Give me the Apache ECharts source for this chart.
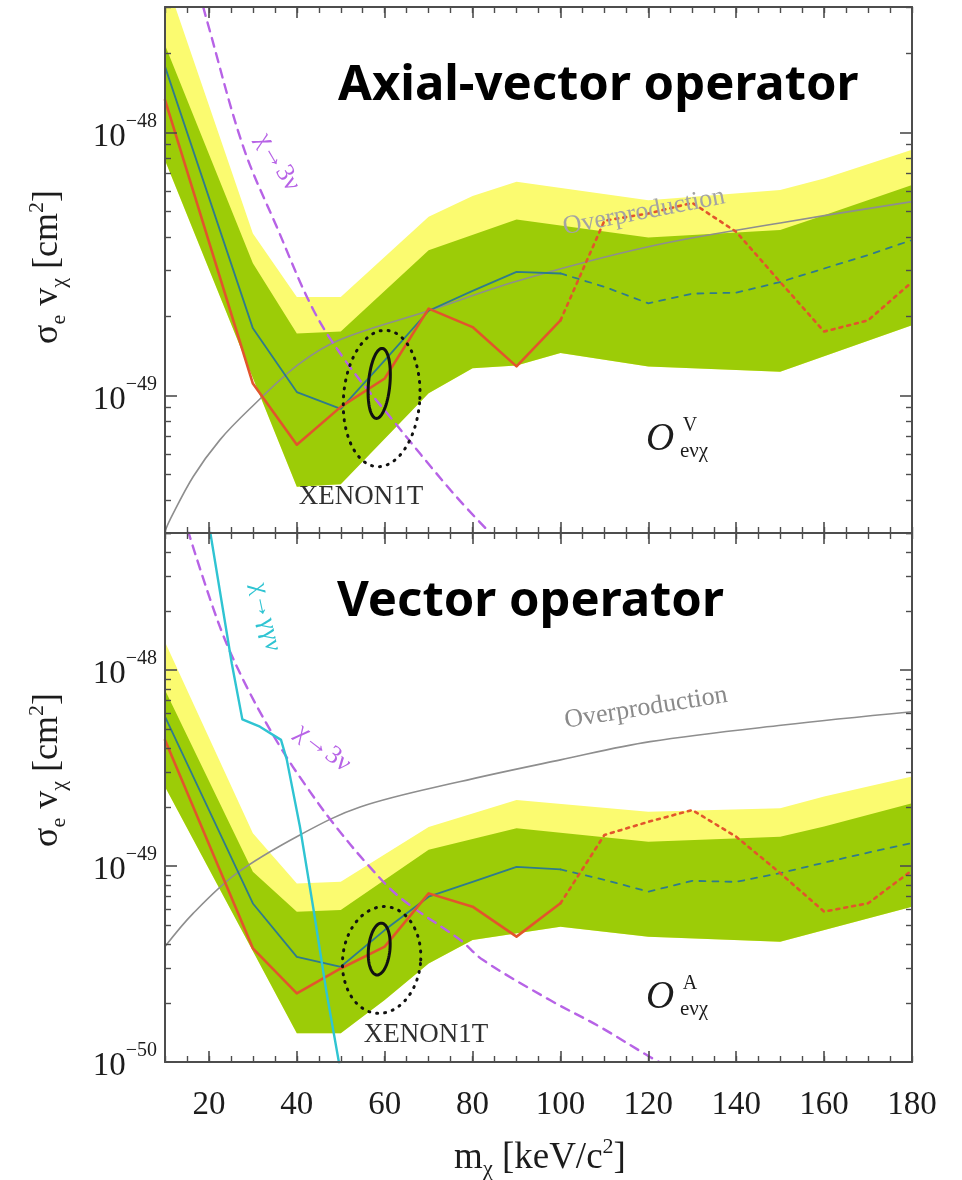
<!DOCTYPE html>
<html>
<head>
<meta charset="utf-8">
<title>Electron-scattering cross sections of fermionic absorption dark matter</title>
<script src="https://cdn.jsdelivr.net/npm/echarts@6.0.0/dist/echarts.min.js"></script>
<style>
  html, body { margin: 0; padding: 0; background: #ffffff; }
  #chart { width: 962px; height: 1180px; }
</style>
</head>
<body>
<div id="chart"></div>
<script>
// Cross sections below are in cm²; the log axes are plotted in units of 1e-49 cm².
const SIGMA_UNIT = 1e-49;

// Mass axis ticks (keV/c²)
const massMajorTicks = [20, 40, 60, 80, 100, 120, 140, 160, 180];
// Decade ticks (cm²)
const axialDecades = [1e-49, 1e-48];
const vectorDecades = [1e-50, 1e-49, 1e-48];

// ---------- Upper panel: axial-vector operator (O^V_eνχ) ----------
const axialYellowHi = [[10, 3.9e-48], [30, 4.13e-49], [40, 2.37e-49], [50, 2.37e-49], [70, 4.78e-49], [80, 5.73e-49], [90, 6.49e-49], [120, 5.53e-49], [150, 6.04e-49], [160, 6.68e-49], [180, 8.6e-49]];
const axialGreenHi = [[10, 2.15e-48], [30, 3.18e-49], [40, 1.72e-49], [50, 1.75e-49], [70, 3.57e-49], [90, 4.67e-49], [120, 3.99e-49], [150, 4.26e-49], [160, 4.85e-49], [180, 6.31e-49]];
const axialGreenLo = [[10, 7.85e-49], [40, 4.5e-50], [50, 4.6e-50], [70, 1.02e-49], [80, 1.27e-49], [90, 1.3e-49], [100, 1.45e-49], [120, 1.29e-49], [150, 1.23e-49], [180, 1.85e-49]];
const axialLimit = [[10, 1.33e-48], [30, 1.11e-49], [40, 6.5e-50], [50, 9.05e-50], [60, 1.16e-49], [70, 2.14e-49], [80, 1.82e-49], [90, 1.29e-49], [100, 1.93e-49]];
const axialLimitExtrap = [[100, 1.93e-49], [110, 4.62e-49], [120, 4.92e-49], [130, 5.4e-49], [140, 4.19e-49], [150, 2.7e-49], [160, 1.75e-49], [170, 1.93e-49], [180, 2.7e-49]];
const axialMedian = [[10, 1.78e-48], [30, 1.8e-49], [40, 1.03e-49], [50, 8.9e-50], [60, 1.36e-49], [70, 2.1e-49], [80, 2.5e-49], [90, 2.95e-49], [100, 2.91e-49]];
const axialMedianExtrap = [[100, 2.91e-49], [110, 2.59e-49], [120, 2.24e-49], [130, 2.44e-49], [140, 2.46e-49], [150, 2.7e-49], [160, 3.04e-49], [170, 3.42e-49], [180, 3.9e-49]];
const axialOverproduction = [[10, 3.05e-50], [11.1, 3.36e-50], [16.4, 4.91e-50], [22.5, 6.78e-50], [29.3, 8.9e-50], [40.3, 1.31e-49], [49.8, 1.63e-49], [70, 2.1e-49], [90, 2.72e-49], [120, 3.68e-49], [150, 4.53e-49], [180, 5.46e-49]];
const axialDecay3nu = [[18.7, 3.0e-48], [19.5, 2.68e-48], [27.8, 8.83e-49], [35.4, 4.39e-49], [43.8, 2.11e-49], [51.4, 1.33e-49], [61.2, 8.3e-50], [75.6, 4.25e-50], [84, 3.0e-50]];
// XENON1T excess contours: [mass min, mass max, σ min, σ max]
const axialXenon1Sigma = [56.3, 61.2, 8.18e-50, 1.51e-49];
const axialXenon2Sigma = [50.6, 68.0, 5.36e-50, 1.77e-49];

// ---------- Lower panel: vector operator (O^A_eνχ) ----------
const vectorYellowHi = [[10, 1.39e-48], [30, 1.47e-49], [40, 8.15e-50], [50, 8.3e-50], [70, 1.58e-49], [90, 2.17e-49], [120, 1.89e-49], [150, 1.97e-49], [160, 2.26e-49], [180, 2.86e-49]];
const vectorGreenHi = [[10, 7.9e-49], [30, 9.35e-50], [40, 5.85e-50], [50, 5.96e-50], [70, 1.21e-49], [90, 1.56e-49], [120, 1.33e-49], [150, 1.41e-49], [160, 1.59e-49], [180, 2.09e-49]];
const vectorGreenLo = [[10, 2.54e-49], [40, 1.4e-50], [50, 1.4e-50], [60, 2.07e-50], [70, 3.18e-50], [80, 4.19e-50], [100, 4.9e-50], [120, 4.36e-50], [150, 4.11e-50], [180, 6.2e-50]];
const vectorLimit = [[10, 4.4e-49], [30, 3.8e-50], [40, 2.24e-50], [50, 3.0e-50], [60, 3.88e-50], [70, 7.25e-50], [80, 6.2e-50], [90, 4.36e-50], [100, 6.45e-50]];
const vectorLimitExtrap = [[100, 6.45e-50], [110, 1.44e-49], [120, 1.68e-49], [130, 1.93e-49], [140, 1.41e-49], [150, 9.2e-50], [160, 5.85e-50], [170, 6.45e-50], [180, 9.5e-50]];
const vectorMedian = [[10, 5.78e-49], [30, 6.44e-50], [40, 3.44e-50], [50, 3.06e-50], [60, 4.71e-50], [70, 6.97e-50], [80, 8.3e-50], [90, 9.9e-50], [100, 9.6e-50]];
const vectorMedianExtrap = [[100, 9.6e-50], [110, 8.5e-50], [120, 7.4e-50], [130, 8.4e-50], [140, 8.3e-50], [150, 9.2e-50], [160, 1.04e-49], [170, 1.17e-49], [180, 1.31e-49]];
const vectorOverproduction = [[10, 3.88e-50], [16.4, 5.73e-50], [26.3, 9.17e-50], [40.7, 1.44e-49], [54.4, 2.0e-49], [77, 2.69e-49], [100, 3.48e-49], [120.4, 4.31e-49], [150.7, 5.24e-49], [180, 6.12e-49]];
const vectorDecay3nu = [[15.2, 5.16e-48], [22.5, 1.66e-48], [28.6, 8.2e-49], [36.2, 4.06e-49], [42.2, 2.54e-49], [48.3, 1.65e-49], [55.9, 1.03e-49], [63.5, 6.9e-50], [77.2, 4.19e-50], [82.4, 3.31e-50], [97.6, 2.07e-50], [109, 1.51e-50], [120.4, 1.06e-50], [122.5, 1.0e-50]];
const vectorDecayGammaGamma = [[20.2, 5.2e-48], [25.2, 1.08e-48], [27.6, 5.6e-49], [31.6, 5.14e-49], [36.4, 4.4e-49], [37.7, 3.5e-49], [40.7, 1.59e-49], [43.8, 6.0e-50], [46.8, 2.24e-50], [49.5, 1.02e-50], [50.2, 8.5e-51]];
const vectorXenon1Sigma = [56.3, 61.2, 2.78e-50, 5.11e-50];
const vectorXenon2Sigma = [50.4, 68.2, 1.77e-50, 6.21e-50];

// ---------- styling ----------
const SERIF = '"Liberation Serif", "DejaVu Serif", serif';
const SANS = '"Noto Sans", "Open Sans", sans-serif';
const FRAME = '#4d4d4d';
const INK = '#1c1c1c';
const COLORS = {
  yellow: '#fbfb70',
  green: '#9ccc07',
  red: '#e2552c',
  teal: '#2f7b8c',
  gray: '#8e8e8e',
  purple: '#b763e6',
  cyan: '#2fc4d2'
};
const AXIAL_RANGE = [3e-50, 3e-48];
const VECTOR_RANGE = [1e-50, 5e-48];

const toUnit = v => +(v / SIGMA_UNIT).toPrecision(6);
const toAxis = pts => pts.map(p => [p[0], toUnit(p[1])]);

function minorDecadeTicks(range) {
  const lo = toUnit(range[0]), hi = toUnit(range[1]);
  const out = [];
  [0.01, 0.1, 1, 10, 100].forEach(d => {
    for (let k = 2; k <= 9; k++) {
      const v = +(k * d).toPrecision(6);
      if (v >= lo && v <= hi) out.push(v);
    }
  });
  return out;
}

function massAxes(gridIndex, withLabels) {
  const base = { type: 'value', gridIndex, min: 10, max: 180, z: 10, splitLine: { show: false } };
  const line = { show: true, onZero: false, lineStyle: { color: FRAME, width: 2 } };
  const noLine = { show: false, onZero: false };
  const major = { show: true, inside: true, length: 11, customValues: massMajorTicks, lineStyle: { color: FRAME, width: 1.6 } };
  const minor = { show: true, inside: true, length: 6, lineStyle: { color: FRAME, width: 1.4 } };
  const labels = withLabels
    ? { show: true, customValues: massMajorTicks, margin: 27, fontFamily: SERIF, fontSize: 33, color: INK }
    : { show: false };
  return [
    Object.assign({}, base, { position: 'bottom', axisLine: line, axisTick: major, axisLabel: labels }),
    Object.assign({}, base, { position: 'bottom', interval: 5, axisLine: noLine, axisTick: minor, axisLabel: { show: false } }),
    Object.assign({}, base, { position: 'top', axisLine: line, axisTick: major, axisLabel: { show: false } }),
    Object.assign({}, base, { position: 'top', interval: 5, axisLine: noLine, axisTick: minor, axisLabel: { show: false } })
  ];
}

function sigmaAxes(gridIndex, range, decades) {
  const base = { type: 'log', logBase: 10, gridIndex, min: toUnit(range[0]), max: toUnit(range[1]), z: 10, splitLine: { show: false } };
  const line = { show: true, onZero: false, lineStyle: { color: FRAME, width: 2 } };
  const noLine = { show: false, onZero: false };
  const majorValues = decades.map(toUnit);
  const major = { show: true, inside: true, length: 12, customValues: majorValues, lineStyle: { color: FRAME, width: 1.6 } };
  const minor = { show: true, inside: true, length: 6, customValues: minorDecadeTicks(range), lineStyle: { color: FRAME, width: 1.4 } };
  const labels = {
    show: true,
    customValues: majorValues,
    margin: 8,
    formatter: v => '{b|10}{s|\u2212' + (49 - Math.round(Math.log10(v))) + '}',
    rich: {
      b: { fontFamily: SERIF, fontSize: 33, color: INK, verticalAlign: 'bottom', lineHeight: 42 },
      s: { fontFamily: SERIF, fontSize: 20, color: INK, verticalAlign: 'top', lineHeight: 42 }
    }
  };
  return [
    Object.assign({}, base, { position: 'left', axisLine: line, axisTick: major, axisLabel: labels }),
    Object.assign({}, base, { position: 'left', axisLine: noLine, axisTick: minor, axisLabel: { show: false } }),
    Object.assign({}, base, { position: 'right', axisLine: line, axisTick: major, axisLabel: { show: false } }),
    Object.assign({}, base, { position: 'right', axisLine: noLine, axisTick: minor, axisLabel: { show: false } })
  ];
}

// Closed band between an upper and a lower boundary, drawn as one polygon.
function band(name, hi, lo, color, xAxisIndex, yAxisIndex, z) {
  const ring = toAxis(hi.concat(lo.slice().reverse()));
  return {
    name, type: 'custom', xAxisIndex, yAxisIndex, z, clip: true, silent: true,
    data: ring, encode: { x: 0, y: 1 },
    renderItem(params, api) {
      if (params.dataIndexInside !== 0) return null;
      const points = ring.map((_, i) => api.coord([api.value(0, i), api.value(1, i)]));
      return { type: 'polygon', shape: { points }, style: { fill: color } };
    }
  };
}

function curve(name, pts, xAxisIndex, yAxisIndex, color, width, dash, smooth, z) {
  return {
    name, type: 'line', xAxisIndex, yAxisIndex, z, silent: true,
    data: toAxis(pts), showSymbol: false, symbol: 'none',
    smooth: smooth || false,
    lineStyle: { color, width, type: dash || 'solid', cap: 'round', join: 'round' }
  };
}

// Elliptical contour spanning the given mass and cross-section ranges.
function contour(name, box, xAxisIndex, yAxisIndex, dash, lean) {
  return {
    name, type: 'custom', xAxisIndex, yAxisIndex, z: 6, silent: true, clip: true,
    data: [[box[0], box[1], toUnit(box[2]), toUnit(box[3])]],
    encode: { x: [0, 1], y: [2, 3] },
    renderItem(params, api) {
      const a = api.coord([api.value(0), api.value(2)]);
      const b = api.coord([api.value(1), api.value(3)]);
      const cx = (a[0] + b[0]) / 2, cy = (a[1] + b[1]) / 2;
      const rx = Math.abs(b[0] - a[0]) / 2, ry = Math.abs(b[1] - a[1]) / 2;
      const points = [];
      for (let i = 0; i < 96; i++) {
        const t = (i / 96) * Math.PI * 2;
        const s = Math.sin(t);
        points.push([cx + rx * Math.cos(t) + lean * ry * s, cy - ry * s]);
      }
      return {
        type: 'polygon', shape: { points },
        style: { fill: 'none', stroke: '#111111', lineWidth: 3, lineDash: dash, lineCap: 'round' }
      };
    }
  };
}

function panelSeries(p, xi, yi) {
  return [
    band('2σ band', p.yellowHi, p.greenLo, COLORS.yellow, xi, yi, 1),
    band('1σ band', p.greenHi, p.greenLo, COLORS.green, xi, yi, 2),
    curve('Overproduction', p.overproduction, xi, yi, COLORS.gray, 1.6, 'solid', 0.35, 3),
    curve('χ→3ν', p.decay3nu, xi, yi, COLORS.purple, 2.4, [9, 7], 0.35, 3),
    curve('Median sensitivity', p.median, xi, yi, COLORS.teal, 1.8, 'solid', false, 4),
    curve('Median sensitivity (extrap.)', p.medianExtrap, xi, yi, COLORS.teal, 1.8, [6, 7], false, 4),
    curve('XENON1T limit', p.limit, xi, yi, COLORS.red, 2.6, 'solid', false, 5),
    curve('XENON1T limit (extrap.)', p.limitExtrap, xi, yi, COLORS.red, 2.6, [3, 5], false, 5),
    contour('XENON1T 1σ', p.xenon1, xi, yi, null, 0.08),
    contour('XENON1T 2σ', p.xenon2, xi, yi, [1, 7], 0.05)
  ];
}

const series = panelSeries({
  yellowHi: axialYellowHi, greenHi: axialGreenHi, greenLo: axialGreenLo,
  limit: axialLimit, limitExtrap: axialLimitExtrap,
  median: axialMedian, medianExtrap: axialMedianExtrap,
  overproduction: axialOverproduction, decay3nu: axialDecay3nu,
  xenon1: axialXenon1Sigma, xenon2: axialXenon2Sigma
}, 0, 0).concat(panelSeries({
  yellowHi: vectorYellowHi, greenHi: vectorGreenHi, greenLo: vectorGreenLo,
  limit: vectorLimit, limitExtrap: vectorLimitExtrap,
  median: vectorMedian, medianExtrap: vectorMedianExtrap,
  overproduction: vectorOverproduction, decay3nu: vectorDecay3nu,
  xenon1: vectorXenon1Sigma, xenon2: vectorXenon2Sigma
}, 4, 4));
series.push(curve('χ→γγν', vectorDecayGammaGamma, 4, 4, COLORS.cyan, 2.4, 'solid', false, 5));

// ---------- text ----------
const scriptRich = (size, small, lh) => ({
  m: { fontFamily: SERIF, fontSize: size, fill: INK, verticalAlign: 'middle' },
  sb: { fontFamily: SERIF, fontSize: small, fill: INK, verticalAlign: 'bottom', lineHeight: lh },
  sp: { fontFamily: SERIF, fontSize: small, fill: INK, verticalAlign: 'top', lineHeight: lh }
});

function label(x, y, text, size, fill, rotation, extra) {
  return {
    type: 'text', x, y, rotation: rotation || 0, z: 100, silent: true,
    style: Object.assign({ text, fontFamily: SERIF, fontSize: size, fill, align: 'center', verticalAlign: 'middle' }, extra || {})
  };
}

function operatorLabel(x, y, sup) {
  return [
    label(x, y, 'O', 39, INK, 0, { fontStyle: 'italic' }),
    label(x + 30, y - 14, sup, 20, INK),
    label(x + 20, y + 11, 'e\u03bd\u03c7', 21, INK, 0, { align: 'left' })
  ];
}

const yTitle = '{m|\u03c3}{sb|e}{m| v}{sb|\u03c7}{m| [cm}{sp|2}{m|]}';

const graphic = [
  { type: 'text', x: 338, y: 86, z: 100, silent: true,
    style: { text: 'Axial-vector operator', fontFamily: SANS, fontWeight: 'bold', fontSize: 49, fill: '#000', align: 'left', verticalAlign: 'middle' } },
  { type: 'text', x: 337, y: 602, z: 100, silent: true,
    style: { text: 'Vector operator', fontFamily: SANS, fontWeight: 'bold', fontSize: 49, fill: '#000', align: 'left', verticalAlign: 'middle' } },

  label(48, 267, yTitle, 36, INK, Math.PI / 2, { rich: scriptRich(36, 22, 44) }),
  label(48, 770, yTitle, 36, INK, Math.PI / 2, { rich: scriptRich(36, 22, 44) }),
  label(540, 1158, '{m|m}{sb|\u03c7}{m| [keV/c}{sp|2}{m|]}', 37, INK, 0, { rich: scriptRich(37, 22, 44) }),

  label(644, 212, 'Overproduction', 26, '#a3a3a3', 0.19),
  label(646, 708, 'Overproduction', 26, '#8a8a8a', 0.16),

  label(361, 497, 'XENON1T', 27, '#303030'),
  label(426, 1035, 'XENON1T', 27, '#303030'),

  label(278, 162, '\u03c7\u21923\u03bd', 26, COLORS.purple, -1.04),
  label(323, 748, '\u03c7\u21923\u03bd', 26, COLORS.purple, -0.66),
  label(266, 617, '\u03c7\u2192\u03b3\u03b3\u03bd', 25, COLORS.cyan, -1.36)
].concat(operatorLabel(660, 440, 'V'), operatorLabel(660, 998, 'A'));

const chart = echarts.init(document.getElementById('chart'), null, { renderer: 'canvas' });
chart.setOption({
  animation: false,
  backgroundColor: '#ffffff',
  grid: [
    { left: 165, top: 7, width: 747, height: 526, containLabel: false },
    { left: 165, top: 533, width: 747, height: 529, containLabel: false }
  ],
  xAxis: massAxes(0, false).concat(massAxes(1, true)),
  yAxis: sigmaAxes(0, AXIAL_RANGE, axialDecades).concat(sigmaAxes(1, VECTOR_RANGE, vectorDecades)),
  series,
  graphic
});
</script>
</body>
</html>
